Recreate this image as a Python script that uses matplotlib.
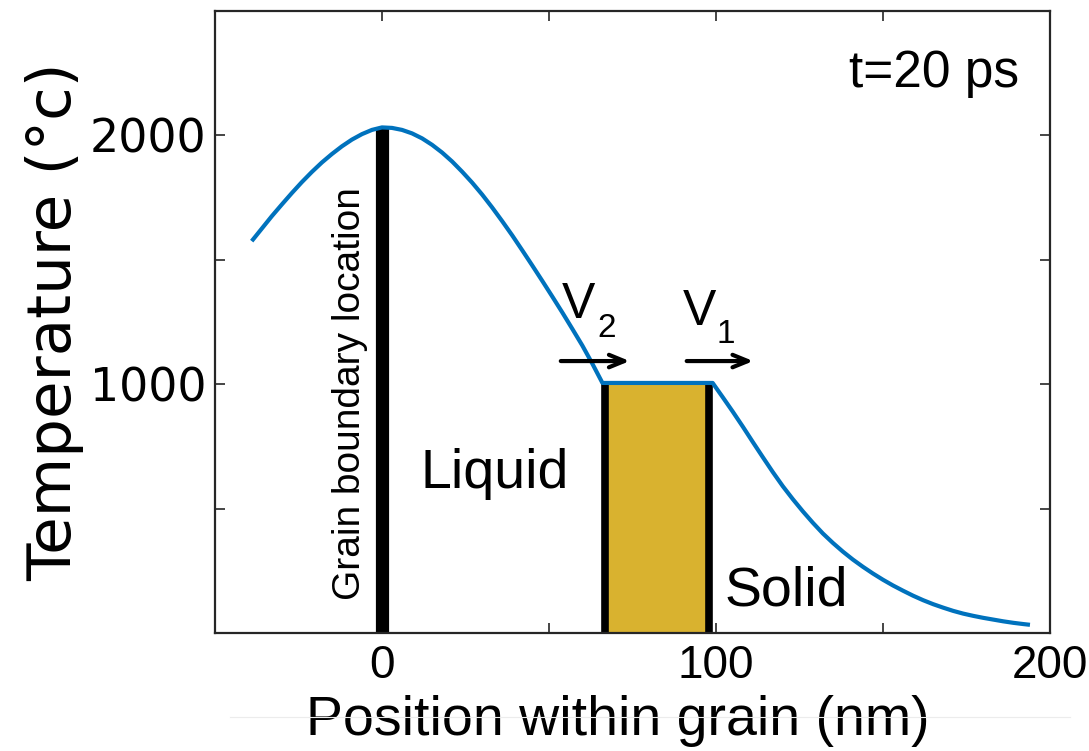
import matplotlib

matplotlib.use("Agg")
import matplotlib.pyplot as plt
from matplotlib.lines import Line2D
from matplotlib.ticker import FixedLocator, MultipleLocator

# temperature profile (position in nm, temperature in C)
x_liquid = [-39, -36, -33, -30, -27, -24, -21, -18, -15, -12, -9, -6, -3, 0,
            3, 6, 9, 12, 15, 18, 21, 24, 27, 30, 33, 36, 39, 42, 45, 48, 51,
            54, 57, 60, 63, 66]
t_liquid = [1575, 1625, 1675, 1722, 1768, 1812, 1853, 1891, 1925, 1956, 1983,
            2005, 2022, 2032, 2030, 2022, 2008, 1988, 1962, 1931, 1895, 1854,
            1810, 1762, 1710, 1655, 1598, 1538, 1477, 1415, 1352, 1288, 1222,
            1155, 1082, 1005]
x_plateau = [66, 99]
t_plateau = [1005, 1005]
x_solid = [99, 102, 105, 108, 111, 114, 117, 120, 123, 126, 129, 132, 135, 138,
           141, 144, 147, 150, 153, 156, 159, 162, 165, 168, 171, 174, 177, 180,
           183, 186, 189, 192, 194]
t_solid = [1005, 948, 890, 830, 768, 707, 647, 590, 538, 489, 443, 400, 362,
           327, 295, 266, 239, 214, 191, 170, 150, 132, 116, 102, 89, 78, 69,
           61, 54, 47, 41, 36, 33]

gb_pos = 0
gb_temp = 2032
interfaces = [66.8, 98]
melt_temp = 1005

xticks = [0, 100, 200]
yticks = [1000, 2000]

BLUE = "#0072BD"
GOLD = "#D9B22F"

fig = plt.figure(figsize=(10.89, 7.51), dpi=100)
ax = fig.add_axes([0.1974, 0.1571, 0.7668, 0.8283])

# solid band between the two interfaces
ax.fill_between(interfaces, 0, melt_temp, color=GOLD, lw=0, zorder=1)
ax.vlines(interfaces, 0, melt_temp, color="black", lw=5.5, zorder=2)
ax.vlines([gb_pos], 0, gb_temp, color="black", lw=9.5, zorder=2)

ax.plot(x_liquid + x_plateau[1:] + x_solid[1:],
        t_liquid + t_plateau[1:] + t_solid[1:],
        color=BLUE, lw=3, solid_capstyle="butt", solid_joinstyle="round", zorder=3)

ax.set_xlim(-50, 200)
ax.set_ylim(0, 2500)
ax.xaxis.set_major_locator(FixedLocator(xticks))
ax.yaxis.set_major_locator(FixedLocator(yticks))
ax.xaxis.set_minor_locator(MultipleLocator(50))
ax.yaxis.set_minor_locator(MultipleLocator(500))
ax.tick_params(which="both", direction="in", top=True, right=True,
               length=7, width=1.2, color="#262626")
ax.tick_params(axis="x", which="major", pad=8, labelsize=33)
ax.tick_params(axis="y", which="major", pad=6, labelsize=33)
for lab in ax.get_xticklabels():
    lab.set_fontfamily("Liberation Sans")
for lab in ax.get_yticklabels():
    lab.set_fontfamily("DejaVu Sans")
for sp in ax.spines.values():
    sp.set_linewidth(1.6)
    sp.set_color("#262626")

ax.set_xlabel("Position within grain (nm)", fontsize=40,
              fontfamily="Liberation Sans")
ax.xaxis.set_label_coords(0.482, -0.1, transform=ax.transAxes)
ax.xaxis.label.set_va("top")
ax.set_ylabel("Temperature (°c)", fontsize=44, fontfamily="DejaVu Sans", labelpad=4)

txt = dict(fontfamily="Liberation Sans", color="black")
ax.text(11.4, 583, "Liquid", fontsize=40, ha="left", va="baseline", **txt)
ax.text(102.7, 110, "Solid", fontsize=40, ha="left", va="baseline", **txt)
ax.text(139.8, 2194, "t=20 ps", fontsize=37, ha="left", va="baseline", **txt)
ax.text(-6.6, 133, "Grain boundary location", fontsize=28, rotation=90,
        rotation_mode="anchor", ha="left", va="baseline", **txt)

ax.text(53.9, 1266, "V", fontsize=36, ha="left", va="baseline", **txt)
ax.text(64.4, 1190, "2", fontsize=24, ha="left", va="baseline", **txt)
ax.text(90.1, 1238, "V", fontsize=36, ha="left", va="baseline", **txt)
ax.text(100.2, 1166, "1", fontsize=24, ha="left", va="baseline", **txt)

arrow = dict(arrowstyle="->,head_length=1.1,head_width=0.45", color="black", lw=3)
ax.annotate("", xy=(75, 1093), xytext=(52.7, 1093), arrowprops=arrow, zorder=4)
ax.annotate("", xy=(112, 1093), xytext=(90.4, 1093), arrowprops=arrow, zorder=4)

# faint scan line below the axis labels
fig.add_artist(Line2D([230 / 1089, 1070 / 1089], [1 - 717 / 751] * 2,
                      transform=fig.transFigure, color="#ececec", lw=0.8))

fig.savefig("out.png", dpi=100)
